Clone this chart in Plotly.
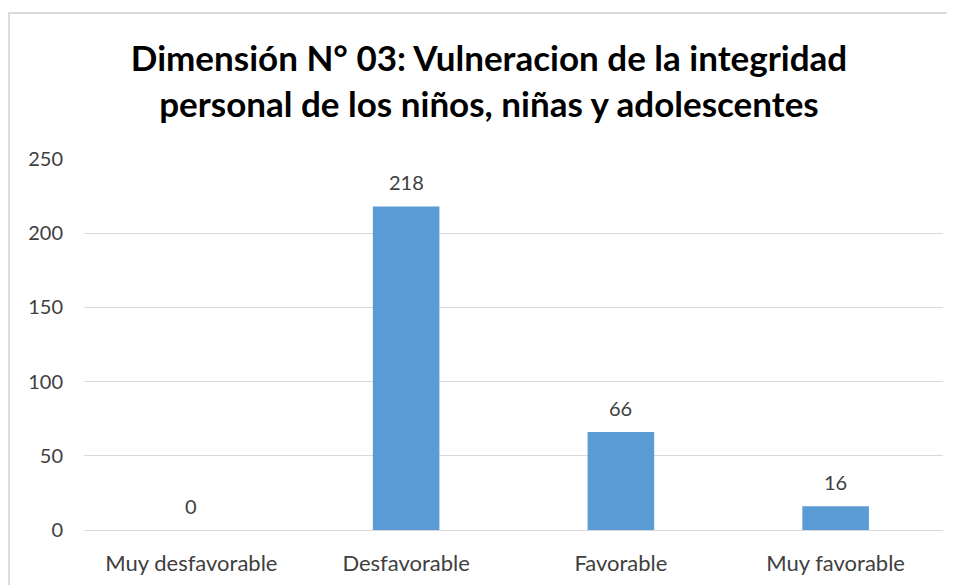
import plotly.graph_objects as go

categories = ["Muy desfavorable", "Desfavorable", "Favorable", "Muy favorable"]
values = [0, 218, 66, 16]
y_ticks = [0, 50, 100, 150, 200, 250]
title_text = "Dimensión N° 03: Vulneracion de la integridad<br>personal de los niños, niñas y adolescentes"

FONT = "Lato, Calibri, sans-serif"
# page has an 8px body margin, so the figure is drawn 8px smaller and offset
W, H = 947, 577
L, R, T, B = 75.5, 12, 151, 55
pw, ph = W - L - R, H - T - B

fig = go.Figure()
fig.add_trace(go.Bar(
    x=categories, y=values,
    marker=dict(color="#5B9BD5", line=dict(width=0)),
    width=0.31,
    hoverinfo="x+y",
))

for c, v in zip(categories, values):
    fig.add_annotation(x=c, y=v, xref="x", yref="y", text=str(v), showarrow=False,
                       yanchor="middle", yshift=24,
                       font=dict(family=FONT, size=20, color="#404040"))

fig.update_layout(
    width=W, height=H,
    margin=dict(l=L, r=R, t=T, b=B, autoexpand=False),
    paper_bgcolor="white", plot_bgcolor="white",
    showlegend=False,
    title=dict(text=title_text, x=(489 - 8) / W, xanchor="center", y=1 - 63 / H, yanchor="middle",
               xref="container", yref="container",
               font=dict(family=FONT, size=35, color="#000000", weight="bold")),
    xaxis=dict(showgrid=False, showline=False, zeroline=False, ticks="",
               ticklabelstandoff=18,
               tickfont=dict(family=FONT, size=22, color="#404040")),
    yaxis=dict(range=[0, 250], tickvals=y_ticks, showgrid=True, gridcolor="#d9d9d9", gridwidth=1,
               zeroline=True, zerolinecolor="#d9d9d9", zerolinewidth=1, showline=False, ticks="",
               ticklabelstandoff=20,
               tickfont=dict(family=FONT, size=20, color="#404040")),
)

# chart border
fig.add_shape(type="rect", xref="paper", yref="paper",
              x0=(0.5 - L) / pw, x1=(W + 10 - L) / pw,
              y0=1 - (H + 10 - T) / ph, y1=1 + (T - 5) / ph,
              line=dict(color="#d0d0d0", width=1.5), fillcolor="rgba(0,0,0,0)", layer="below")

fig.write_html("out.html")
